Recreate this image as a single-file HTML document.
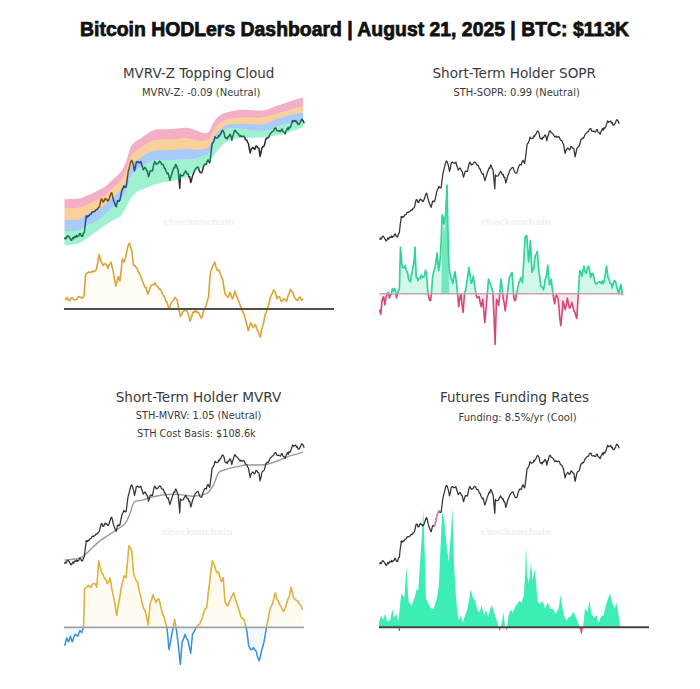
<!DOCTYPE html>
<html><head><meta charset="utf-8"><title>Bitcoin HODLers Dashboard</title>
<style>
html,body{margin:0;padding:0;background:#fff;}
body{width:700px;height:689px;overflow:hidden;}
svg{display:block;}
.t{font-family:"DejaVu Sans",sans-serif;fill:#3a3a3a;}
.wm{font-family:"DejaVu Sans",sans-serif;font-weight:bold;fill:#f1f1f1;}
</style></head><body>
<svg width="700" height="689" viewBox="0 0 700 689">
<rect width="700" height="689" fill="#fff"/>
<text x="354.5" y="35.7" text-anchor="middle" style="font-family:'Liberation Sans',sans-serif;font-weight:bold;font-size:19.4px;fill:#111;stroke:#111;stroke-width:0.75">Bitcoin HODLers Dashboard | August 21, 2025 | BTC: $113K</text>

<g id="c1">
<text class="wm" x="199" y="224.5" text-anchor="middle" font-size="9.2">checkonchain</text>
<polyline points="64.6,239.2 65.3,237.5 66.0,238.7 66.7,237.8 67.4,235.8 68.1,235.7 68.8,236.6 69.5,237.4 70.2,238.9 70.9,240.1 71.6,240.3 72.3,238.4 73.0,237.5 73.7,238.8 74.4,236.9 75.1,236.3 75.9,237.2 76.6,235.4 77.4,236.9 78.1,235.9 78.9,235.7 79.6,233.6 80.3,233.4 81.1,235.5 81.8,236.4 82.6,236.3 83.5,233.0 84.4,232.2 85.2,224.0 86.1,218.3 86.1,216.0 86.8,216.1 87.6,217.1 88.3,215.7 89.0,216.0 89.8,214.5 90.6,214.2 91.4,213.6 92.2,211.8 92.9,211.7 93.7,211.9 94.4,211.3 95.1,211.0 95.8,209.8 96.5,209.4 97.2,209.6 98.0,207.9 98.7,207.6 99.5,206.7 100.4,202.4 101.2,199.1 102.1,199.3 103.0,202.0 103.8,201.7 104.5,199.8 105.3,198.5 106.1,199.7 106.8,199.3 107.6,200.9 108.4,200.6 109.2,198.7 110.0,196.2 110.9,193.5 111.7,192.7 112.5,195.8 113.4,199.7 114.1,202.0 114.9,203.7 115.6,206.1 116.3,206.7 117.5,200.9 118.3,200.5 119.0,201.4 119.8,200.3 120.7,196.4 121.6,191.6 122.4,189.2 123.1,188.0 123.9,185.8 124.7,187.2 125.4,187.4 126.2,186.9 127.1,179.5 128.1,172.0 129.0,168.8 129.9,165.1 130.8,161.5 131.6,160.4 132.5,162.1 133.4,165.1 134.5,170.9 135.4,167.3 136.3,162.1 137.1,162.1 137.8,161.6 138.6,162.7 139.4,162.5 140.1,162.5 140.9,161.6 141.7,164.8 142.4,166.7 143.2,169.7 144.1,168.4 145.0,167.4 145.8,168.6 146.5,170.5 147.3,170.9 148.5,176.7 149.4,173.9 150.2,170.9 151.0,170.6 151.7,170.9 152.5,170.9 153.3,166.6 154.0,163.5 154.8,161.6 155.6,162.9 156.4,164.4 157.2,163.9 157.9,163.6 158.6,162.5 159.4,161.3 160.1,161.6 160.8,162.3 161.6,164.3 162.3,164.5 163.0,164.5 163.7,166.1 164.4,168.4 165.1,168.3 165.8,170.5 166.5,172.0 167.4,173.8 168.2,173.2 169.0,176.9 169.9,180.2 170.8,177.1 171.7,174.3 172.5,171.4 173.2,169.8 174.0,167.4 174.8,167.8 175.5,164.6 176.3,165.1 177.2,168.1 178.1,169.7 179.0,179.8 179.8,188.3 180.4,174.3 181.2,175.7 181.9,175.7 182.7,175.5 183.4,175.2 184.1,173.2 184.9,172.2 185.6,170.9 186.5,172.4 187.4,174.3 188.2,173.9 188.9,176.9 189.7,176.7 190.8,182.5 191.6,179.9 192.4,176.3 193.2,174.3 194.2,171.8 195.2,169.2 195.9,168.6 196.6,167.7 197.4,167.1 198.1,166.9 199.0,169.6 199.9,172.1 200.8,172.7 201.6,172.7 202.4,170.7 203.1,167.9 203.9,165.7 204.7,164.1 205.5,164.2 206.3,164.5 207.1,161.4 208.0,159.9 208.9,161.6 209.7,162.8 210.9,154.1 212.1,143.6 213.2,142.5 214.1,140.5 215.0,136.7 215.8,137.8 216.5,138.2 217.3,137.8 218.0,137.7 218.8,135.4 219.5,136.1 220.2,134.3 220.9,133.9 221.7,131.5 222.4,130.5 223.1,130.9 224.0,132.5 224.8,136.7 225.6,138.1 226.4,137.6 227.2,139.0 227.9,136.8 228.7,137.0 229.4,135.1 230.1,134.3 231.0,136.1 231.8,140.1 232.5,136.8 233.2,135.3 234.0,131.9 234.7,130.3 235.4,130.4 236.2,132.3 236.9,132.4 237.6,133.2 238.4,133.9 239.2,135.5 240.0,136.7 240.8,135.5 241.5,136.6 242.3,136.7 243.1,136.2 243.8,136.1 244.6,137.2 245.4,139.5 246.2,139.8 246.9,140.3 247.7,142.6 248.5,143.6 249.4,149.1 250.2,152.9 251.1,149.4 252.0,148.3 252.8,147.4 253.5,148.1 254.3,149.4 255.1,148.8 255.8,146.2 256.6,146.0 257.4,147.3 258.1,148.0 258.9,148.3 260.1,156.4 261.0,152.5 261.8,148.3 262.7,146.7 263.6,146.5 264.4,145.2 265.1,142.3 265.9,139.0 266.7,138.6 267.4,137.5 268.2,137.8 269.0,136.7 269.8,134.5 270.6,133.2 271.4,132.8 272.1,131.5 272.9,131.4 273.6,130.9 274.3,128.6 275.1,128.3 275.8,128.0 276.6,130.2 277.3,130.9 278.1,130.9 279.0,130.6 279.8,131.4 280.6,131.6 281.4,129.4 282.2,129.1 282.9,131.4 283.7,132.1 284.4,132.4 285.1,133.8 286.0,131.1 286.8,129.7 287.5,128.0 288.2,129.8 289.0,127.2 289.7,128.0 290.6,126.8 291.5,123.9 292.6,120.4 293.4,121.8 294.1,121.0 294.9,121.0 295.7,120.5 296.5,122.7 297.3,122.1 298.1,124.5 299.0,124.5 299.7,123.7 300.5,121.9 301.2,120.2 301.9,119.2 302.7,120.2 303.4,121.2 304.2,123.3" fill="none" stroke="#2a2a2a" stroke-width="1.5" stroke-linejoin="round"/>
<path d="M64.5,199.2 C66.8,199.1 74.8,199.1 78.6,198.5 C82.4,197.9 84.6,196.6 87.3,195.5 C90.0,194.4 92.1,193.5 95.0,192.0 C97.9,190.5 102.3,188.4 104.8,186.7 C107.3,185.0 107.7,184.1 110.0,182.0 C112.3,179.9 116.7,176.0 118.7,174.0 C120.7,172.0 120.9,172.2 122.2,170.0 C123.5,167.8 125.0,164.8 126.4,161.0 C127.8,157.2 129.0,150.8 130.5,147.5 C132.0,144.2 133.9,142.9 135.5,141.5 C137.1,140.1 137.6,140.3 139.8,138.9 C142.0,137.5 146.1,134.3 148.6,132.8 C151.1,131.3 152.8,130.4 155.0,129.8 C157.2,129.2 159.2,129.3 162.0,129.2 C164.8,129.1 168.0,129.2 172.0,129.0 C176.0,128.8 182.0,127.6 185.8,127.8 C189.6,128.0 192.1,129.1 195.0,130.0 C197.9,130.9 200.9,132.7 203.2,133.0 C205.4,133.3 207.0,133.2 208.5,132.0 C210.0,130.8 210.8,127.7 212.0,125.5 C213.2,123.3 214.6,120.8 216.0,119.0 C217.4,117.2 218.8,116.1 220.5,115.0 C222.2,113.9 223.3,113.3 226.4,112.5 C229.5,111.7 235.1,110.4 239.0,110.0 C242.9,109.6 245.9,109.9 250.0,110.0 C254.1,110.1 259.3,111.0 263.5,110.4 C267.7,109.8 271.1,107.8 275.0,106.5 C278.9,105.2 282.1,103.9 286.8,102.4 C291.5,100.9 300.3,98.2 303.0,97.3 L303.0,106.0 C300.3,106.8 291.5,109.8 286.8,111.1 C282.1,112.4 278.9,112.9 275.0,114.0 C271.1,115.1 267.7,116.9 263.5,117.5 C259.3,118.1 254.1,117.8 250.0,117.8 C245.9,117.8 242.9,117.5 239.0,117.8 C235.1,118.1 229.5,118.9 226.4,119.8 C223.3,120.7 222.2,121.8 220.5,123.0 C218.8,124.2 217.4,125.2 216.0,127.0 C214.6,128.8 213.2,131.4 212.0,133.5 C210.8,135.6 210.0,138.6 208.5,139.8 C207.0,141.1 205.4,141.0 203.2,141.0 C200.9,141.0 197.9,140.4 195.0,140.0 C192.1,139.6 189.6,138.4 185.8,138.3 C182.0,138.2 176.0,139.2 172.0,139.5 C168.0,139.8 164.8,139.7 162.0,139.8 C159.2,139.9 157.2,139.8 155.0,140.3 C152.8,140.8 151.1,141.2 148.6,142.6 C146.1,144.0 142.0,147.1 139.8,148.5 C137.6,149.9 137.1,149.7 135.5,151.2 C133.9,152.7 132.0,154.3 130.5,157.5 C129.0,160.7 127.8,166.9 126.4,170.5 C125.0,174.1 123.5,176.9 122.2,179.0 C120.9,181.1 120.7,181.1 118.7,183.0 C116.7,184.9 112.3,188.4 110.0,190.5 C107.7,192.6 107.3,193.8 104.8,195.5 C102.3,197.2 97.9,199.5 95.0,201.0 C92.1,202.5 90.0,203.4 87.3,204.5 C84.6,205.6 82.4,207.2 78.6,207.8 C74.8,208.5 66.8,208.3 64.5,208.4 Z" fill="#e6376b" fill-opacity="0.4"/>
<path d="M64.5,208.4 C66.8,208.3 74.8,208.5 78.6,207.8 C82.4,207.2 84.6,205.6 87.3,204.5 C90.0,203.4 92.1,202.5 95.0,201.0 C97.9,199.5 102.3,197.2 104.8,195.5 C107.3,193.8 107.7,192.6 110.0,190.5 C112.3,188.4 116.7,184.9 118.7,183.0 C120.7,181.1 120.9,181.1 122.2,179.0 C123.5,176.9 125.0,174.1 126.4,170.5 C127.8,166.9 129.0,160.7 130.5,157.5 C132.0,154.3 133.9,152.7 135.5,151.2 C137.1,149.7 137.6,149.9 139.8,148.5 C142.0,147.1 146.1,144.0 148.6,142.6 C151.1,141.2 152.8,140.8 155.0,140.3 C157.2,139.8 159.2,139.9 162.0,139.8 C164.8,139.7 168.0,139.8 172.0,139.5 C176.0,139.2 182.0,138.2 185.8,138.3 C189.6,138.4 192.1,139.6 195.0,140.0 C197.9,140.4 200.9,141.0 203.2,141.0 C205.4,141.0 207.0,141.1 208.5,139.8 C210.0,138.6 210.8,135.6 212.0,133.5 C213.2,131.4 214.6,128.8 216.0,127.0 C217.4,125.2 218.8,124.2 220.5,123.0 C222.2,121.8 223.3,120.7 226.4,119.8 C229.5,118.9 235.1,118.1 239.0,117.8 C242.9,117.5 245.9,117.8 250.0,117.8 C254.1,117.8 259.3,118.1 263.5,117.5 C267.7,116.9 271.1,115.1 275.0,114.0 C278.9,112.9 282.1,112.4 286.8,111.1 C291.5,109.8 300.3,106.8 303.0,106.0 L303.0,112.6 C300.3,113.1 291.5,114.3 286.8,115.5 C282.1,116.7 278.9,118.1 275.0,119.5 C271.1,120.9 267.7,123.2 263.5,124.0 C259.3,124.8 254.1,124.1 250.0,124.0 C245.9,123.9 242.9,123.3 239.0,123.5 C235.1,123.7 229.5,124.0 226.4,125.0 C223.3,126.0 222.2,128.1 220.5,129.5 C218.8,130.9 217.4,131.6 216.0,133.5 C214.6,135.4 213.2,138.7 212.0,141.0 C210.8,143.3 210.0,146.2 208.5,147.5 C207.0,148.8 205.4,148.7 203.2,149.0 C200.9,149.3 197.9,149.6 195.0,149.5 C192.1,149.4 189.6,148.6 185.8,148.7 C182.0,148.8 176.0,149.6 172.0,149.8 C168.0,150.1 164.8,150.1 162.0,150.2 C159.2,150.3 157.2,150.0 155.0,150.4 C152.8,150.8 151.1,151.3 148.6,152.6 C146.1,153.9 142.0,156.9 139.8,158.3 C137.6,159.7 137.1,159.7 135.5,161.2 C133.9,162.7 132.0,164.3 130.5,167.5 C129.0,170.7 127.8,177.0 126.4,180.5 C125.0,184.0 123.5,186.6 122.2,188.5 C120.9,190.4 120.7,190.2 118.7,192.0 C116.7,193.8 112.3,197.4 110.0,199.5 C107.7,201.6 107.3,202.7 104.8,204.5 C102.3,206.3 97.9,208.9 95.0,210.5 C92.1,212.1 90.0,212.5 87.3,214.0 C84.6,215.5 82.4,218.5 78.6,219.4 C74.8,220.3 66.8,219.4 64.5,219.4 Z" fill="#f58900" fill-opacity="0.4"/>
<path d="M64.5,219.4 C66.8,219.4 74.8,220.3 78.6,219.4 C82.4,218.5 84.6,215.5 87.3,214.0 C90.0,212.5 92.1,212.1 95.0,210.5 C97.9,208.9 102.3,206.3 104.8,204.5 C107.3,202.7 107.7,201.6 110.0,199.5 C112.3,197.4 116.7,193.8 118.7,192.0 C120.7,190.2 120.9,190.4 122.2,188.5 C123.5,186.6 125.0,184.0 126.4,180.5 C127.8,177.0 129.0,170.7 130.5,167.5 C132.0,164.3 133.9,162.7 135.5,161.2 C137.1,159.7 137.6,159.7 139.8,158.3 C142.0,156.9 146.1,153.9 148.6,152.6 C151.1,151.3 152.8,150.8 155.0,150.4 C157.2,150.0 159.2,150.3 162.0,150.2 C164.8,150.1 168.0,150.1 172.0,149.8 C176.0,149.6 182.0,148.8 185.8,148.7 C189.6,148.6 192.1,149.4 195.0,149.5 C197.9,149.6 200.9,149.3 203.2,149.0 C205.4,148.7 207.0,148.8 208.5,147.5 C210.0,146.2 210.8,143.3 212.0,141.0 C213.2,138.7 214.6,135.4 216.0,133.5 C217.4,131.6 218.8,130.9 220.5,129.5 C222.2,128.1 223.3,126.0 226.4,125.0 C229.5,124.0 235.1,123.7 239.0,123.5 C242.9,123.3 245.9,123.9 250.0,124.0 C254.1,124.1 259.3,124.8 263.5,124.0 C267.7,123.2 271.1,120.9 275.0,119.5 C278.9,118.1 282.1,116.7 286.8,115.5 C291.5,114.3 300.3,113.1 303.0,112.6 L303.0,120.6 C300.3,121.1 291.5,122.3 286.8,123.5 C282.1,124.7 278.9,126.2 275.0,127.5 C271.1,128.8 267.7,130.6 263.5,131.0 C259.3,131.4 254.1,130.4 250.0,130.0 C245.9,129.6 242.9,128.7 239.0,128.5 C235.1,128.3 229.5,128.1 226.4,129.0 C223.3,129.9 222.2,132.3 220.5,134.0 C218.8,135.7 217.4,136.8 216.0,139.0 C214.6,141.2 213.2,144.5 212.0,147.0 C210.8,149.5 210.0,152.5 208.5,154.0 C207.0,155.5 205.4,155.2 203.2,156.0 C200.9,156.8 197.9,158.5 195.0,159.0 C192.1,159.5 189.6,159.0 185.8,159.2 C182.0,159.4 176.0,159.8 172.0,160.0 C168.0,160.2 164.8,160.2 162.0,160.3 C159.2,160.4 157.2,159.9 155.0,160.3 C152.8,160.7 151.1,161.3 148.6,162.6 C146.1,163.9 142.0,166.6 139.8,168.0 C137.6,169.4 137.1,169.4 135.5,171.0 C133.9,172.6 132.0,174.2 130.5,177.5 C129.0,180.8 127.8,187.1 126.4,190.5 C125.0,193.9 123.5,196.1 122.2,198.0 C120.9,199.9 120.7,200.1 118.7,202.0 C116.7,203.9 112.3,207.4 110.0,209.5 C107.7,211.6 107.3,212.6 104.8,214.7 C102.3,216.8 97.9,220.2 95.0,222.0 C92.1,223.8 90.0,224.1 87.3,225.5 C84.6,226.9 82.4,229.6 78.6,230.5 C74.8,231.4 66.8,230.9 64.5,231.0 Z" fill="#257ded" fill-opacity="0.4"/>
<path d="M64.5,231.0 C66.8,230.9 74.8,231.4 78.6,230.5 C82.4,229.6 84.6,226.9 87.3,225.5 C90.0,224.1 92.1,223.8 95.0,222.0 C97.9,220.2 102.3,216.8 104.8,214.7 C107.3,212.6 107.7,211.6 110.0,209.5 C112.3,207.4 116.7,203.9 118.7,202.0 C120.7,200.1 120.9,199.9 122.2,198.0 C123.5,196.1 125.0,193.9 126.4,190.5 C127.8,187.1 129.0,180.8 130.5,177.5 C132.0,174.2 133.9,172.6 135.5,171.0 C137.1,169.4 137.6,169.4 139.8,168.0 C142.0,166.6 146.1,163.9 148.6,162.6 C151.1,161.3 152.8,160.7 155.0,160.3 C157.2,159.9 159.2,160.4 162.0,160.3 C164.8,160.2 168.0,160.2 172.0,160.0 C176.0,159.8 182.0,159.4 185.8,159.2 C189.6,159.0 192.1,159.5 195.0,159.0 C197.9,158.5 200.9,156.8 203.2,156.0 C205.4,155.2 207.0,155.5 208.5,154.0 C210.0,152.5 210.8,149.5 212.0,147.0 C213.2,144.5 214.6,141.2 216.0,139.0 C217.4,136.8 218.8,135.7 220.5,134.0 C222.2,132.3 223.3,129.9 226.4,129.0 C229.5,128.1 235.1,128.3 239.0,128.5 C242.9,128.7 245.9,129.6 250.0,130.0 C254.1,130.4 259.3,131.4 263.5,131.0 C267.7,130.6 271.1,128.8 275.0,127.5 C278.9,126.2 282.1,124.7 286.8,123.5 C291.5,122.3 300.3,121.1 303.0,120.6 L303.0,127.1 C300.3,128.1 291.5,131.5 286.8,132.9 C282.1,134.3 278.9,134.7 275.0,135.5 C271.1,136.3 267.7,137.1 263.5,137.5 C259.3,137.9 254.1,137.8 250.0,137.8 C245.9,137.9 242.9,137.1 239.0,137.8 C235.1,138.5 229.5,140.5 226.4,142.0 C223.3,143.5 222.2,145.2 220.5,147.0 C218.8,148.8 217.4,150.6 216.0,152.5 C214.6,154.4 213.2,156.8 212.0,158.5 C210.8,160.2 210.0,161.2 208.5,162.5 C207.0,163.8 205.4,165.0 203.2,166.5 C200.9,168.0 197.9,169.7 195.0,171.5 C192.1,173.3 189.6,175.9 185.8,177.5 C182.0,179.1 176.0,180.2 172.0,181.0 C168.0,181.8 164.8,181.9 162.0,182.5 C159.2,183.1 157.2,183.8 155.0,184.5 C152.8,185.2 151.1,186.0 148.6,187.0 C146.1,188.0 142.0,189.5 139.8,190.5 C137.6,191.5 137.1,191.7 135.5,193.0 C133.9,194.3 132.0,196.2 130.5,198.5 C129.0,200.8 127.8,204.0 126.4,206.5 C125.0,209.0 123.5,211.7 122.2,213.5 C120.9,215.3 120.7,216.1 118.7,217.5 C116.7,218.9 112.3,220.7 110.0,222.0 C107.7,223.3 107.3,223.8 104.8,225.5 C102.3,227.2 97.9,230.4 95.0,232.5 C92.1,234.6 90.0,236.2 87.3,238.0 C84.6,239.8 82.4,242.0 78.6,243.3 C74.8,244.6 66.8,245.2 64.5,245.6 Z" fill="#0cde89" fill-opacity="0.4"/>
<path d="M64.8,309 L64.8,298.9 L67.2,297.3 L69.6,300.5 L72.8,298.1 L76.0,299.7 L79.2,296.5 L82.4,298.1 L84.0,295.7 L85.6,274.9 L86.4,273.3 L90.4,272.5 L93.5,270.9 L96.7,268.5 L99.1,254.2 L100.7,260.6 L103.1,265.4 L105.5,263.8 L107.9,268.5 L111.1,262.2 L112.7,269.3 L115.1,282.9 L115.9,286.1 L118.3,276.5 L119.9,281.3 L122.3,259.0 L123.9,262.2 L125.5,257.4 L127.9,246.2 L129.5,243.0 L131.9,251.0 L133.5,265.4 L135.9,267.0 L138.2,271.7 L141.4,278.1 L143.8,284.5 L146.2,287.7 L147.8,294.1 L150.2,287.7 L152.6,284.5 L155.0,282.9 L157.4,286.1 L160.6,289.3 L163.8,295.7 L167.0,302.1 L169.3,308.5 L171.7,302.1 L174.9,297.3 L177.3,300.5 L178.9,310.1 L180.5,316.5 L182.9,311.7 L186.1,308.5 L188.5,314.9 L190.1,321.3 L192.5,313.3 L195.7,310.1 L198.9,313.3 L201.3,318.1 L203.7,310.1 L206.1,305.3 L208.5,297.3 L210.1,274.9 L212.4,267.0 L214.8,262.2 L217.2,270.1 L219.6,271.7 L221.2,276.5 L222.8,279.7 L225.2,294.1 L227.6,297.3 L230.0,292.5 L232.4,298.9 L234.8,290.9 L237.2,297.3 L239.6,303.7 L242.0,310.1 L244.3,314.9 L246.7,324.5 L248.3,330.8 L250.7,322.9 L253.1,327.7 L255.5,324.5 L257.9,330.8 L260.3,337.2 L262.7,326.1 L265.1,314.9 L267.5,308.5 L270.0,298.7 L273.5,290.0 L275.2,291.8 L277.0,298.7 L279.6,297.0 L281.3,301.4 L283.9,298.7 L286.6,301.4 L288.7,294.4 L290.5,289.2 L292.6,291.8 L294.4,297.0 L296.1,299.6 L297.9,300.5 L300.0,297.0 L301.8,300.5 L302.7,298.7 L302.7,309 Z" fill="#f5c842" fill-opacity="0.05"/>
<polyline points="64.8,298.9 66.0,299.4 67.2,297.3 68.4,300.2 69.6,300.5 70.7,298.5 71.7,297.7 72.8,298.1 73.9,299.6 74.9,299.8 76.0,299.7 77.1,299.1 78.1,297.0 79.2,296.5 80.3,297.3 81.3,297.9 82.4,298.1 84.0,295.7 85.6,274.9 86.4,273.3 87.4,273.3 88.4,271.9 89.4,272.5 90.4,272.5 91.4,271.7 92.5,272.1 93.5,270.9 94.6,271.5 95.6,270.6 96.7,268.5 97.9,261.5 99.1,254.2 100.7,260.6 101.9,262.8 103.1,265.4 104.3,264.0 105.5,263.8 106.7,264.9 107.9,268.5 109.0,265.1 110.0,264.2 111.1,262.2 112.7,269.3 113.9,275.6 115.1,282.9 115.9,286.1 117.1,281.0 118.3,276.5 119.9,281.3 121.1,271.2 122.3,259.0 123.9,262.2 125.5,257.4 126.7,251.9 127.9,246.2 129.5,243.0 130.7,247.2 131.9,251.0 133.5,265.4 134.7,265.5 135.9,267.0 137.1,268.0 138.2,271.7 139.3,273.3 140.3,274.9 141.4,278.1 142.6,281.3 143.8,284.5 145.0,287.5 146.2,287.7 147.8,294.1 149.0,291.4 150.2,287.7 151.4,285.2 152.6,284.5 153.8,284.8 155.0,282.9 156.2,285.3 157.4,286.1 158.5,287.8 159.5,289.4 160.6,289.3 161.7,292.2 162.7,294.4 163.8,295.7 164.9,297.4 165.9,301.3 167.0,302.1 168.2,306.6 169.3,308.5 170.5,304.4 171.7,302.1 172.8,301.2 173.8,299.5 174.9,297.3 176.1,298.8 177.3,300.5 178.9,310.1 180.5,316.5 181.7,314.2 182.9,311.7 184.0,310.6 185.0,310.8 186.1,308.5 187.3,311.7 188.5,314.9 190.1,321.3 191.3,318.2 192.5,313.3 193.6,311.8 194.6,312.2 195.7,310.1 196.8,312.3 197.8,312.1 198.9,313.3 200.1,315.9 201.3,318.1 202.5,315.3 203.7,310.1 204.9,308.3 206.1,305.3 207.3,301.3 208.5,297.3 210.1,274.9 211.2,270.2 212.4,267.0 213.6,264.1 214.8,262.2 216.0,266.7 217.2,270.1 218.4,270.0 219.6,271.7 221.2,276.5 222.8,279.7 224.0,288.0 225.2,294.1 226.4,295.1 227.6,297.3 228.8,296.1 230.0,292.5 231.2,295.2 232.4,298.9 233.6,296.2 234.8,290.9 236.0,294.7 237.2,297.3 238.4,300.5 239.6,303.7 240.8,306.9 242.0,310.1 243.2,312.9 244.3,314.9 245.5,319.9 246.7,324.5 248.3,330.8 249.5,326.3 250.7,322.9 251.9,324.5 253.1,327.7 254.3,326.1 255.5,324.5 256.7,328.9 257.9,330.8 259.1,334.3 260.3,337.2 261.5,330.5 262.7,326.1 263.9,321.4 265.1,314.9 266.3,312.3 267.5,308.5 268.8,304.7 270.0,298.7 271.2,294.9 272.3,293.6 273.5,290.0 275.2,291.8 277.0,298.7 278.3,296.6 279.6,297.0 281.3,301.4 282.6,300.5 283.9,298.7 285.2,299.4 286.6,301.4 287.6,297.1 288.7,294.4 290.5,289.2 291.6,291.6 292.6,291.8 294.4,297.0 296.1,299.6 297.9,300.5 298.9,297.6 300.0,297.0 301.8,300.5 302.7,298.7" fill="none" stroke="#dca33a" stroke-width="1.6" stroke-linejoin="round"/>
<line x1="64" y1="309" x2="334" y2="309" stroke="#505050" stroke-width="2"/>
</g>
<g id="c2">
<text class="wm" x="516" y="224.5" text-anchor="middle" font-size="9.2">checkonchain</text>
<polyline points="379.6,239.7 380.3,238.0 381.0,239.2 381.7,238.3 382.4,236.3 383.1,236.2 383.8,237.1 384.5,237.9 385.2,239.4 385.9,240.6 386.6,240.8 387.3,238.9 388.0,238.0 388.7,239.3 389.4,237.4 390.1,236.8 390.9,237.7 391.6,235.9 392.4,237.4 393.1,236.4 393.9,236.2 394.6,234.1 395.3,233.9 396.1,236.0 396.8,236.9 397.6,236.8 398.5,233.5 399.4,232.7 400.2,224.5 401.1,218.8 401.1,216.5 401.8,216.6 402.6,217.6 403.3,216.2 404.0,216.5 404.8,215.0 405.6,214.7 406.4,214.1 407.2,212.3 407.9,212.2 408.7,212.4 409.4,211.8 410.1,211.5 410.8,210.3 411.5,209.9 412.2,210.1 413.0,208.4 413.7,208.1 414.5,207.2 415.4,202.9 416.2,199.6 417.1,199.8 418.0,202.5 418.8,202.2 419.5,200.3 420.3,199.0 421.1,200.2 421.8,199.8 422.6,201.4 423.4,201.1 424.2,199.2 425.0,196.7 425.9,194.0 426.7,193.2 427.5,196.3 428.4,200.2 429.1,202.5 429.9,204.2 430.6,206.6 431.3,207.2 432.5,201.4 433.3,201.0 434.0,201.9 434.8,200.8 435.7,196.9 436.6,192.1 437.4,189.7 438.1,188.5 438.9,186.3 439.7,187.7 440.4,187.9 441.2,187.4 442.1,180.0 443.1,172.5 444.0,169.3 444.9,165.6 445.8,162.0 446.6,160.9 447.5,162.6 448.4,165.6 449.5,171.4 450.4,167.8 451.3,162.6 452.1,162.6 452.8,162.1 453.6,163.2 454.4,163.0 455.1,163.0 455.9,162.1 456.7,165.3 457.4,167.2 458.2,170.2 459.1,168.9 460.0,167.9 460.8,169.1 461.5,171.0 462.3,171.4 463.5,177.2 464.4,174.4 465.2,171.4 466.0,171.1 466.7,171.4 467.5,171.4 468.3,167.1 469.0,164.0 469.8,162.1 470.6,163.4 471.4,164.9 472.2,164.4 472.9,164.1 473.6,163.0 474.4,161.8 475.1,162.1 475.8,162.8 476.6,164.8 477.3,165.0 478.0,165.0 478.7,166.6 479.4,168.9 480.1,168.8 480.8,171.0 481.5,172.5 482.4,174.3 483.2,173.7 484.0,177.4 484.9,180.7 485.8,177.6 486.7,174.8 487.5,171.9 488.2,170.3 489.0,167.9 489.8,168.3 490.5,165.1 491.3,165.6 492.2,168.6 493.1,170.2 494.0,180.3 494.8,188.8 495.4,174.8 496.2,176.2 496.9,176.2 497.7,176.0 498.4,175.7 499.1,173.7 499.9,172.7 500.6,171.4 501.5,172.9 502.4,174.8 503.2,174.4 503.9,177.4 504.7,177.2 505.8,183.0 506.6,180.4 507.4,176.8 508.2,174.8 509.2,172.3 510.2,169.7 510.9,169.1 511.6,168.2 512.4,167.6 513.1,167.4 514.0,170.1 514.9,172.6 515.8,173.2 516.6,173.2 517.4,171.2 518.1,168.4 518.9,166.2 519.7,164.6 520.5,164.7 521.3,165.0 522.1,161.9 523.0,160.4 523.9,162.1 524.7,163.3 525.9,154.6 527.1,144.1 528.2,143.0 529.1,141.0 530.0,137.2 530.8,138.3 531.5,138.7 532.3,138.3 533.0,138.2 533.8,135.9 534.5,136.6 535.2,134.8 535.9,134.4 536.7,132.0 537.4,131.0 538.1,131.4 539.0,133.0 539.8,137.2 540.6,138.6 541.4,138.1 542.2,139.5 542.9,137.3 543.7,137.5 544.4,135.6 545.1,134.8 546.0,136.6 546.8,140.6 547.5,137.3 548.2,135.8 549.0,132.4 549.7,130.8 550.4,130.9 551.2,132.8 551.9,132.9 552.6,133.7 553.4,134.4 554.2,136.0 555.0,137.2 555.8,136.0 556.5,137.1 557.3,137.2 558.1,136.7 558.8,136.6 559.6,137.7 560.4,140.0 561.2,140.3 561.9,140.8 562.7,143.1 563.5,144.1 564.4,149.6 565.2,153.4 566.1,149.9 567.0,148.8 567.8,147.9 568.5,148.6 569.3,149.9 570.1,149.3 570.8,146.7 571.6,146.5 572.4,147.8 573.1,148.5 573.9,148.8 575.1,156.9 576.0,153.0 576.8,148.8 577.7,147.2 578.6,147.0 579.4,145.7 580.1,142.8 580.9,139.5 581.7,139.1 582.4,138.0 583.2,138.3 584.0,137.2 584.8,135.0 585.6,133.7 586.4,133.3 587.1,132.0 587.9,131.9 588.6,131.4 589.3,129.1 590.1,128.8 590.8,128.5 591.6,130.7 592.3,131.4 593.1,131.4 594.0,131.1 594.8,131.9 595.6,132.1 596.4,129.9 597.2,129.6 597.9,131.9 598.7,132.6 599.4,132.9 600.1,134.3 601.0,131.6 601.8,130.2 602.5,128.5 603.2,130.3 604.0,127.7 604.7,128.5 605.6,127.3 606.5,124.4 607.6,120.9 608.4,122.3 609.1,121.5 609.9,121.5 610.7,121.0 611.5,123.2 612.3,122.6 613.1,125.0 614.0,125.0 614.7,124.2 615.5,122.4 616.2,120.7 616.9,119.7 617.7,120.7 618.4,121.7 619.2,123.8" fill="none" stroke="#333" stroke-width="1.25" stroke-linejoin="round"/>
<clipPath id="c2a"><rect x="370" y="150" width="270" height="143.8"/></clipPath>
<clipPath id="c2b"><rect x="370" y="293.8" width="270" height="80"/></clipPath>
<path d="M379.6,293.8 L379.6,309.6 L380.8,314.2 L382.0,301.5 L382.9,298.0 L383.7,296.8 L384.9,305.0 L385.8,298.6 L386.6,295.7 L387.5,293.5 L388.3,292.2 L389.5,298.0 L390.4,294.7 L391.2,294.5 L392.4,288.7 L393.6,291.0 L394.5,288.5 L395.3,289.9 L396.5,298.0 L397.4,294.1 L398.2,291.0 L399.4,288.7 L400.5,247.0 L401.7,263.2 L402.5,267.3 L403.4,267.8 L404.3,268.0 L405.2,265.5 L406.0,269.6 L406.9,271.3 L407.8,274.1 L408.6,279.4 L409.5,280.8 L410.4,281.8 L411.2,276.2 L412.1,272.5 L413.0,266.4 L413.9,263.2 L415.0,247.0 L416.2,277.1 L417.0,277.1 L417.9,280.6 L418.8,278.2 L419.7,278.3 L420.5,278.4 L421.4,274.8 L422.5,277.4 L423.7,277.1 L424.6,275.0 L425.5,270.2 L426.6,274.8 L427.8,291.0 L428.9,298.0 L429.8,300.5 L430.7,300.3 L431.8,288.7 L432.6,277.4 L433.5,272.6 L434.3,269.6 L435.2,267.0 L436.1,260.6 L437.0,253.0 L437.9,262.7 L438.7,270.4 L439.5,265.0 L440.4,256.5 L441.3,237.3 L442.2,214.8 L443.0,217.6 L443.9,224.0 L444.8,219.5 L445.7,214.0 L447.0,185.2 L448.3,249.6 L449.1,267.0 L450.0,273.0 L450.9,277.4 L451.9,280.4 L452.9,283.4 L454.0,276.2 L455.1,271.8 L456.2,281.1 L457.3,290.7 L458.7,306.7 L459.8,298.3 L460.9,293.6 L462.0,305.0 L463.1,312.5 L464.5,293.6 L465.6,290.1 L466.7,283.4 L467.8,275.6 L468.9,267.4 L470.0,274.5 L471.1,283.4 L472.2,281.6 L473.3,276.2 L474.4,283.8 L475.4,290.7 L476.5,296.0 L477.6,298.0 L479.1,296.5 L480.2,303.1 L481.3,306.7 L482.7,299.4 L483.8,311.1 L484.9,322.7 L486.3,305.2 L487.4,291.8 L488.5,279.1 L489.6,282.4 L490.7,284.9 L491.8,288.2 L492.9,292.2 L494.0,316.9 L495.1,344.5 L496.5,299.4 L497.6,301.4 L498.7,305.2 L499.8,293.5 L500.9,279.1 L502.0,286.5 L503.1,298.0 L504.1,302.5 L505.2,311.0 L506.3,302.9 L507.4,293.6 L508.4,284.6 L509.4,277.6 L510.3,276.0 L511.1,274.0 L512.0,272.4 L512.9,283.9 L513.7,296.8 L514.6,300.7 L515.5,300.3 L516.4,294.3 L517.2,290.6 L518.1,286.3 L519.0,282.1 L519.8,281.1 L520.7,277.6 L521.6,279.2 L522.5,282.8 L523.4,267.1 L524.2,253.7 L525.1,237.5 L526.0,235.8 L526.8,235.7 L527.7,249.1 L528.6,261.9 L529.5,253.2 L530.3,240.9 L531.1,254.9 L532.0,272.4 L532.9,268.7 L533.8,268.9 L534.6,260.7 L535.5,254.9 L536.4,254.3 L537.3,251.4 L538.1,262.4 L539.0,272.4 L539.9,278.2 L540.8,286.3 L541.7,286.7 L542.5,287.2 L543.4,289.8 L544.3,285.6 L545.1,279.7 L546.0,277.6 L546.9,272.4 L547.8,265.4 L548.6,276.7 L549.5,284.6 L550.4,284.0 L551.2,279.3 L552.1,287.3 L553.0,293.3 L553.9,300.6 L554.7,303.8 L555.6,297.3 L556.5,295.0 L557.9,298.0 L558.9,306.3 L559.8,318.5 L560.8,325.6 L561.9,314.5 L563.0,301.0 L564.1,305.0 L565.2,309.7 L566.2,305.8 L567.3,298.0 L568.4,303.6 L569.5,308.2 L570.6,306.7 L571.7,302.4 L572.8,305.8 L573.9,311.1 L574.9,312.2 L575.8,315.7 L576.8,318.4 L578.2,295.2 L579.7,270.5 L580.8,271.8 L581.9,276.3 L583.0,270.7 L584.0,266.1 L585.1,271.8 L586.2,273.4 L587.3,269.0 L588.4,266.1 L589.5,269.7 L590.6,277.7 L591.7,273.5 L592.7,273.4 L593.8,276.3 L594.9,282.1 L596.0,284.0 L597.1,283.5 L598.2,282.2 L599.3,282.1 L600.3,281.9 L601.4,283.5 L602.4,280.8 L603.3,283.7 L604.3,280.6 L605.4,273.0 L606.5,266.1 L608.0,277.7 L609.1,279.3 L610.2,283.5 L611.2,283.8 L612.3,287.9 L613.4,282.3 L614.5,280.6 L615.6,282.0 L616.7,286.4 L617.8,290.8 L618.9,293.7 L620.0,287.7 L621.0,284.7 L622.5,295.2 L622.5,293.8 Z" fill="#36e0a0" fill-opacity="0.22" clip-path="url(#c2a)"/>
<path d="M379.6,293.8 L379.6,309.6 L380.8,314.2 L382.0,301.5 L382.9,298.0 L383.7,296.8 L384.9,305.0 L385.8,298.6 L386.6,295.7 L387.5,293.5 L388.3,292.2 L389.5,298.0 L390.4,294.7 L391.2,294.5 L392.4,288.7 L393.6,291.0 L394.5,288.5 L395.3,289.9 L396.5,298.0 L397.4,294.1 L398.2,291.0 L399.4,288.7 L400.5,247.0 L401.7,263.2 L402.5,267.3 L403.4,267.8 L404.3,268.0 L405.2,265.5 L406.0,269.6 L406.9,271.3 L407.8,274.1 L408.6,279.4 L409.5,280.8 L410.4,281.8 L411.2,276.2 L412.1,272.5 L413.0,266.4 L413.9,263.2 L415.0,247.0 L416.2,277.1 L417.0,277.1 L417.9,280.6 L418.8,278.2 L419.7,278.3 L420.5,278.4 L421.4,274.8 L422.5,277.4 L423.7,277.1 L424.6,275.0 L425.5,270.2 L426.6,274.8 L427.8,291.0 L428.9,298.0 L429.8,300.5 L430.7,300.3 L431.8,288.7 L432.6,277.4 L433.5,272.6 L434.3,269.6 L435.2,267.0 L436.1,260.6 L437.0,253.0 L437.9,262.7 L438.7,270.4 L439.5,265.0 L440.4,256.5 L441.3,237.3 L442.2,214.8 L443.0,217.6 L443.9,224.0 L444.8,219.5 L445.7,214.0 L447.0,185.2 L448.3,249.6 L449.1,267.0 L450.0,273.0 L450.9,277.4 L451.9,280.4 L452.9,283.4 L454.0,276.2 L455.1,271.8 L456.2,281.1 L457.3,290.7 L458.7,306.7 L459.8,298.3 L460.9,293.6 L462.0,305.0 L463.1,312.5 L464.5,293.6 L465.6,290.1 L466.7,283.4 L467.8,275.6 L468.9,267.4 L470.0,274.5 L471.1,283.4 L472.2,281.6 L473.3,276.2 L474.4,283.8 L475.4,290.7 L476.5,296.0 L477.6,298.0 L479.1,296.5 L480.2,303.1 L481.3,306.7 L482.7,299.4 L483.8,311.1 L484.9,322.7 L486.3,305.2 L487.4,291.8 L488.5,279.1 L489.6,282.4 L490.7,284.9 L491.8,288.2 L492.9,292.2 L494.0,316.9 L495.1,344.5 L496.5,299.4 L497.6,301.4 L498.7,305.2 L499.8,293.5 L500.9,279.1 L502.0,286.5 L503.1,298.0 L504.1,302.5 L505.2,311.0 L506.3,302.9 L507.4,293.6 L508.4,284.6 L509.4,277.6 L510.3,276.0 L511.1,274.0 L512.0,272.4 L512.9,283.9 L513.7,296.8 L514.6,300.7 L515.5,300.3 L516.4,294.3 L517.2,290.6 L518.1,286.3 L519.0,282.1 L519.8,281.1 L520.7,277.6 L521.6,279.2 L522.5,282.8 L523.4,267.1 L524.2,253.7 L525.1,237.5 L526.0,235.8 L526.8,235.7 L527.7,249.1 L528.6,261.9 L529.5,253.2 L530.3,240.9 L531.1,254.9 L532.0,272.4 L532.9,268.7 L533.8,268.9 L534.6,260.7 L535.5,254.9 L536.4,254.3 L537.3,251.4 L538.1,262.4 L539.0,272.4 L539.9,278.2 L540.8,286.3 L541.7,286.7 L542.5,287.2 L543.4,289.8 L544.3,285.6 L545.1,279.7 L546.0,277.6 L546.9,272.4 L547.8,265.4 L548.6,276.7 L549.5,284.6 L550.4,284.0 L551.2,279.3 L552.1,287.3 L553.0,293.3 L553.9,300.6 L554.7,303.8 L555.6,297.3 L556.5,295.0 L557.9,298.0 L558.9,306.3 L559.8,318.5 L560.8,325.6 L561.9,314.5 L563.0,301.0 L564.1,305.0 L565.2,309.7 L566.2,305.8 L567.3,298.0 L568.4,303.6 L569.5,308.2 L570.6,306.7 L571.7,302.4 L572.8,305.8 L573.9,311.1 L574.9,312.2 L575.8,315.7 L576.8,318.4 L578.2,295.2 L579.7,270.5 L580.8,271.8 L581.9,276.3 L583.0,270.7 L584.0,266.1 L585.1,271.8 L586.2,273.4 L587.3,269.0 L588.4,266.1 L589.5,269.7 L590.6,277.7 L591.7,273.5 L592.7,273.4 L593.8,276.3 L594.9,282.1 L596.0,284.0 L597.1,283.5 L598.2,282.2 L599.3,282.1 L600.3,281.9 L601.4,283.5 L602.4,280.8 L603.3,283.7 L604.3,280.6 L605.4,273.0 L606.5,266.1 L608.0,277.7 L609.1,279.3 L610.2,283.5 L611.2,283.8 L612.3,287.9 L613.4,282.3 L614.5,280.6 L615.6,282.0 L616.7,286.4 L617.8,290.8 L618.9,293.7 L620.0,287.7 L621.0,284.7 L622.5,295.2 L622.5,293.8 Z" fill="#e0507a" fill-opacity="0.13" clip-path="url(#c2b)"/>
<polyline points="379.6,309.6 380.8,314.2 382.0,301.5 382.9,298.0 383.7,296.8 384.9,305.0 385.8,298.6 386.6,295.7 387.5,293.5 388.3,292.2 389.5,298.0 390.4,294.7 391.2,294.5 392.4,288.7 393.6,291.0 394.5,288.5 395.3,289.9 396.5,298.0 397.4,294.1 398.2,291.0 399.4,288.7 400.5,247.0 401.7,263.2 402.5,267.3 403.4,267.8 404.3,268.0 405.2,265.5 406.0,269.6 406.9,271.3 407.8,274.1 408.6,279.4 409.5,280.8 410.4,281.8 411.2,276.2 412.1,272.5 413.0,266.4 413.9,263.2 415.0,247.0 416.2,277.1 417.0,277.1 417.9,280.6 418.8,278.2 419.7,278.3 420.5,278.4 421.4,274.8 422.5,277.4 423.7,277.1 424.6,275.0 425.5,270.2 426.6,274.8 427.8,291.0 428.9,298.0 429.8,300.5 430.7,300.3 431.8,288.7 432.6,277.4 433.5,272.6 434.3,269.6 435.2,267.0 436.1,260.6 437.0,253.0 437.9,262.7 438.7,270.4 439.5,265.0 440.4,256.5 441.3,237.3 442.2,214.8 443.0,217.6 443.9,224.0 444.8,219.5 445.7,214.0 447.0,185.2 448.3,249.6 449.1,267.0 450.0,273.0 450.9,277.4 451.9,280.4 452.9,283.4 454.0,276.2 455.1,271.8 456.2,281.1 457.3,290.7 458.7,306.7 459.8,298.3 460.9,293.6 462.0,305.0 463.1,312.5 464.5,293.6 465.6,290.1 466.7,283.4 467.8,275.6 468.9,267.4 470.0,274.5 471.1,283.4 472.2,281.6 473.3,276.2 474.4,283.8 475.4,290.7 476.5,296.0 477.6,298.0 479.1,296.5 480.2,303.1 481.3,306.7 482.7,299.4 483.8,311.1 484.9,322.7 486.3,305.2 487.4,291.8 488.5,279.1 489.6,282.4 490.7,284.9 491.8,288.2 492.9,292.2 494.0,316.9 495.1,344.5 496.5,299.4 497.6,301.4 498.7,305.2 499.8,293.5 500.9,279.1 502.0,286.5 503.1,298.0 504.1,302.5 505.2,311.0 506.3,302.9 507.4,293.6 508.4,284.6 509.4,277.6 510.3,276.0 511.1,274.0 512.0,272.4 512.9,283.9 513.7,296.8 514.6,300.7 515.5,300.3 516.4,294.3 517.2,290.6 518.1,286.3 519.0,282.1 519.8,281.1 520.7,277.6 521.6,279.2 522.5,282.8 523.4,267.1 524.2,253.7 525.1,237.5 526.0,235.8 526.8,235.7 527.7,249.1 528.6,261.9 529.5,253.2 530.3,240.9 531.1,254.9 532.0,272.4 532.9,268.7 533.8,268.9 534.6,260.7 535.5,254.9 536.4,254.3 537.3,251.4 538.1,262.4 539.0,272.4 539.9,278.2 540.8,286.3 541.7,286.7 542.5,287.2 543.4,289.8 544.3,285.6 545.1,279.7 546.0,277.6 546.9,272.4 547.8,265.4 548.6,276.7 549.5,284.6 550.4,284.0 551.2,279.3 552.1,287.3 553.0,293.3 553.9,300.6 554.7,303.8 555.6,297.3 556.5,295.0 557.9,298.0 558.9,306.3 559.8,318.5 560.8,325.6 561.9,314.5 563.0,301.0 564.1,305.0 565.2,309.7 566.2,305.8 567.3,298.0 568.4,303.6 569.5,308.2 570.6,306.7 571.7,302.4 572.8,305.8 573.9,311.1 574.9,312.2 575.8,315.7 576.8,318.4 578.2,295.2 579.7,270.5 580.8,271.8 581.9,276.3 583.0,270.7 584.0,266.1 585.1,271.8 586.2,273.4 587.3,269.0 588.4,266.1 589.5,269.7 590.6,277.7 591.7,273.5 592.7,273.4 593.8,276.3 594.9,282.1 596.0,284.0 597.1,283.5 598.2,282.2 599.3,282.1 600.3,281.9 601.4,283.5 602.4,280.8 603.3,283.7 604.3,280.6 605.4,273.0 606.5,266.1 608.0,277.7 609.1,279.3 610.2,283.5 611.2,283.8 612.3,287.9 613.4,282.3 614.5,280.6 615.6,282.0 616.7,286.4 617.8,290.8 618.9,293.7 620.0,287.7 621.0,284.7 622.5,295.2" fill="none" stroke="#2fd49a" stroke-width="1.7" stroke-linejoin="round" clip-path="url(#c2a)"/>
<polyline points="379.6,309.6 380.8,314.2 382.0,301.5 382.9,298.0 383.7,296.8 384.9,305.0 385.8,298.6 386.6,295.7 387.5,293.5 388.3,292.2 389.5,298.0 390.4,294.7 391.2,294.5 392.4,288.7 393.6,291.0 394.5,288.5 395.3,289.9 396.5,298.0 397.4,294.1 398.2,291.0 399.4,288.7 400.5,247.0 401.7,263.2 402.5,267.3 403.4,267.8 404.3,268.0 405.2,265.5 406.0,269.6 406.9,271.3 407.8,274.1 408.6,279.4 409.5,280.8 410.4,281.8 411.2,276.2 412.1,272.5 413.0,266.4 413.9,263.2 415.0,247.0 416.2,277.1 417.0,277.1 417.9,280.6 418.8,278.2 419.7,278.3 420.5,278.4 421.4,274.8 422.5,277.4 423.7,277.1 424.6,275.0 425.5,270.2 426.6,274.8 427.8,291.0 428.9,298.0 429.8,300.5 430.7,300.3 431.8,288.7 432.6,277.4 433.5,272.6 434.3,269.6 435.2,267.0 436.1,260.6 437.0,253.0 437.9,262.7 438.7,270.4 439.5,265.0 440.4,256.5 441.3,237.3 442.2,214.8 443.0,217.6 443.9,224.0 444.8,219.5 445.7,214.0 447.0,185.2 448.3,249.6 449.1,267.0 450.0,273.0 450.9,277.4 451.9,280.4 452.9,283.4 454.0,276.2 455.1,271.8 456.2,281.1 457.3,290.7 458.7,306.7 459.8,298.3 460.9,293.6 462.0,305.0 463.1,312.5 464.5,293.6 465.6,290.1 466.7,283.4 467.8,275.6 468.9,267.4 470.0,274.5 471.1,283.4 472.2,281.6 473.3,276.2 474.4,283.8 475.4,290.7 476.5,296.0 477.6,298.0 479.1,296.5 480.2,303.1 481.3,306.7 482.7,299.4 483.8,311.1 484.9,322.7 486.3,305.2 487.4,291.8 488.5,279.1 489.6,282.4 490.7,284.9 491.8,288.2 492.9,292.2 494.0,316.9 495.1,344.5 496.5,299.4 497.6,301.4 498.7,305.2 499.8,293.5 500.9,279.1 502.0,286.5 503.1,298.0 504.1,302.5 505.2,311.0 506.3,302.9 507.4,293.6 508.4,284.6 509.4,277.6 510.3,276.0 511.1,274.0 512.0,272.4 512.9,283.9 513.7,296.8 514.6,300.7 515.5,300.3 516.4,294.3 517.2,290.6 518.1,286.3 519.0,282.1 519.8,281.1 520.7,277.6 521.6,279.2 522.5,282.8 523.4,267.1 524.2,253.7 525.1,237.5 526.0,235.8 526.8,235.7 527.7,249.1 528.6,261.9 529.5,253.2 530.3,240.9 531.1,254.9 532.0,272.4 532.9,268.7 533.8,268.9 534.6,260.7 535.5,254.9 536.4,254.3 537.3,251.4 538.1,262.4 539.0,272.4 539.9,278.2 540.8,286.3 541.7,286.7 542.5,287.2 543.4,289.8 544.3,285.6 545.1,279.7 546.0,277.6 546.9,272.4 547.8,265.4 548.6,276.7 549.5,284.6 550.4,284.0 551.2,279.3 552.1,287.3 553.0,293.3 553.9,300.6 554.7,303.8 555.6,297.3 556.5,295.0 557.9,298.0 558.9,306.3 559.8,318.5 560.8,325.6 561.9,314.5 563.0,301.0 564.1,305.0 565.2,309.7 566.2,305.8 567.3,298.0 568.4,303.6 569.5,308.2 570.6,306.7 571.7,302.4 572.8,305.8 573.9,311.1 574.9,312.2 575.8,315.7 576.8,318.4 578.2,295.2 579.7,270.5 580.8,271.8 581.9,276.3 583.0,270.7 584.0,266.1 585.1,271.8 586.2,273.4 587.3,269.0 588.4,266.1 589.5,269.7 590.6,277.7 591.7,273.5 592.7,273.4 593.8,276.3 594.9,282.1 596.0,284.0 597.1,283.5 598.2,282.2 599.3,282.1 600.3,281.9 601.4,283.5 602.4,280.8 603.3,283.7 604.3,280.6 605.4,273.0 606.5,266.1 608.0,277.7 609.1,279.3 610.2,283.5 611.2,283.8 612.3,287.9 613.4,282.3 614.5,280.6 615.6,282.0 616.7,286.4 617.8,290.8 618.9,293.7 620.0,287.7 621.0,284.7 622.5,295.2" fill="none" stroke="#d8457a" stroke-width="1.6" stroke-linejoin="round" clip-path="url(#c2b)"/>
<path d="M441.4,293.8 L442,245 L443,226 L444.4,232 L445.8,205 L446.8,187 L447.6,205 L448.3,248 L449.2,293.8 Z" fill="#33dd9e" fill-opacity="0.6"/>
<line x1="379.5" y1="293.8" x2="623" y2="293.8" stroke="#c9a3ab" stroke-width="1.5"/>
</g>
<g id="c3">
<text class="wm" x="197.5" y="534.5" text-anchor="middle" font-size="9.2">checkonchain</text>
<path d="M64.6,560.0 C66.3,559.8 71.8,559.7 75.0,559.0 C78.2,558.3 79.5,558.9 83.5,556.0 C87.5,553.1 94.0,545.6 99.2,541.4 C104.4,537.2 110.5,534.0 114.9,531.0 C119.3,528.0 122.9,526.1 125.4,523.1 C127.9,520.1 128.8,516.2 130.0,513.2 C131.2,510.3 131.7,507.4 132.6,505.4 C133.5,503.4 133.4,502.3 135.2,501.4 C136.9,500.5 140.7,500.8 143.1,500.1 C145.5,499.5 147.4,498.1 149.6,497.5 C151.8,496.9 153.7,496.6 156.1,496.2 C158.5,495.8 161.2,495.2 164.0,494.9 C166.8,494.6 170.0,494.2 173.1,494.2 C176.2,494.2 179.0,494.6 182.3,494.9 C185.6,495.2 189.4,496.2 192.7,496.2 C196.0,496.2 199.3,495.5 201.9,494.9 C204.5,494.2 206.4,494.1 208.4,492.3 C210.4,490.6 212.0,487.6 213.7,484.4 C215.4,481.2 216.8,475.3 218.6,472.9 C220.4,470.5 222.2,470.8 224.3,470.0 C226.4,469.2 229.0,468.5 231.4,467.9 C233.8,467.3 236.2,466.9 238.6,466.4 C241.0,465.9 243.3,465.2 245.7,465.0 C248.1,464.8 250.5,465.0 252.9,465.0 C255.3,465.0 257.6,465.1 260.0,465.0 C262.4,464.9 264.7,464.8 267.1,464.3 C269.5,463.8 271.9,462.9 274.3,462.1 C276.7,461.3 279.0,460.2 281.4,459.3 C283.8,458.4 286.2,457.2 288.6,456.4 C291.0,455.6 293.3,455.0 295.7,454.3 C298.1,453.6 301.7,452.5 302.9,452.1" fill="none" stroke="#a89494" stroke-width="1.4"/>
<polyline points="64.6,563.7 65.3,562.0 66.0,563.2 66.7,562.3 67.4,560.3 68.1,560.2 68.8,561.1 69.5,561.9 70.2,563.4 70.9,564.6 71.6,564.8 72.3,562.9 73.0,562.0 73.7,563.3 74.4,561.4 75.1,560.8 75.9,561.7 76.6,559.9 77.4,561.4 78.1,560.4 78.9,560.2 79.6,558.1 80.3,557.9 81.1,560.0 81.8,560.9 82.6,560.8 83.5,557.5 84.4,556.7 85.2,548.5 86.1,542.8 86.1,540.5 86.8,540.6 87.6,541.6 88.3,540.2 89.0,540.5 89.8,539.0 90.6,538.7 91.4,538.1 92.2,536.3 92.9,536.2 93.7,536.4 94.4,535.8 95.1,535.5 95.8,534.3 96.5,533.9 97.2,534.1 98.0,532.4 98.7,532.1 99.5,531.2 100.4,526.9 101.2,523.6 102.1,523.8 103.0,526.5 103.8,526.2 104.5,524.3 105.3,523.0 106.1,524.2 106.8,523.8 107.6,525.4 108.4,525.1 109.2,523.2 110.0,520.7 110.9,518.0 111.7,517.2 112.5,520.3 113.4,524.2 114.1,526.5 114.9,528.2 115.6,530.6 116.3,531.2 117.5,525.4 118.3,525.0 119.0,525.9 119.8,524.8 120.7,520.9 121.6,516.1 122.4,513.7 123.1,512.5 123.9,510.3 124.7,511.7 125.4,511.9 126.2,511.4 127.1,504.0 128.1,496.5 129.0,493.3 129.9,489.6 130.8,486.0 131.6,484.9 132.5,486.6 133.4,489.6 134.5,495.4 135.4,491.8 136.3,486.6 137.1,486.6 137.8,486.1 138.6,487.2 139.4,487.0 140.1,487.0 140.9,486.1 141.7,489.3 142.4,491.2 143.2,494.2 144.1,492.9 145.0,491.9 145.8,493.1 146.5,495.0 147.3,495.4 148.5,501.2 149.4,498.4 150.2,495.4 151.0,495.1 151.7,495.4 152.5,495.4 153.3,491.1 154.0,488.0 154.8,486.1 155.6,487.4 156.4,488.9 157.2,488.4 157.9,488.1 158.6,487.0 159.4,485.8 160.1,486.1 160.8,486.8 161.6,488.8 162.3,489.0 163.0,489.0 163.7,490.6 164.4,492.9 165.1,492.8 165.8,495.0 166.5,496.5 167.4,498.3 168.2,497.7 169.0,501.4 169.9,504.7 170.8,501.6 171.7,498.8 172.5,495.9 173.2,494.3 174.0,491.9 174.8,492.3 175.5,489.1 176.3,489.6 177.2,492.6 178.1,494.2 179.0,504.3 179.8,512.8 180.4,498.8 181.2,500.2 181.9,500.2 182.7,500.0 183.4,499.7 184.1,497.7 184.9,496.7 185.6,495.4 186.5,496.9 187.4,498.8 188.2,498.4 188.9,501.4 189.7,501.2 190.8,507.0 191.6,504.4 192.4,500.8 193.2,498.8 194.2,496.3 195.2,493.7 195.9,493.1 196.6,492.2 197.4,491.6 198.1,491.4 199.0,494.1 199.9,496.6 200.8,497.2 201.6,497.2 202.4,495.2 203.1,492.4 203.9,490.2 204.7,488.6 205.5,488.7 206.3,489.0 207.1,485.9 208.0,484.4 208.9,486.1 209.7,487.3 210.9,478.6 212.1,468.1 213.2,467.0 214.1,465.0 215.0,461.2 215.8,462.3 216.5,462.7 217.3,462.3 218.0,462.2 218.8,459.9 219.5,460.6 220.2,458.8 220.9,458.4 221.7,456.0 222.4,455.0 223.1,455.4 224.0,457.0 224.8,461.2 225.6,462.6 226.4,462.1 227.2,463.5 227.9,461.3 228.7,461.5 229.4,459.6 230.1,458.8 231.0,460.6 231.8,464.6 232.5,461.3 233.2,459.8 234.0,456.4 234.7,454.8 235.4,454.9 236.2,456.8 236.9,456.9 237.6,457.7 238.4,458.4 239.2,460.0 240.0,461.2 240.8,460.0 241.5,461.1 242.3,461.2 243.1,460.7 243.8,460.6 244.6,461.7 245.4,464.0 246.2,464.3 246.9,464.8 247.7,467.1 248.5,468.1 249.4,473.6 250.2,477.4 251.1,473.9 252.0,472.8 252.8,471.9 253.5,472.6 254.3,473.9 255.1,473.3 255.8,470.7 256.6,470.5 257.4,471.8 258.1,472.5 258.9,472.8 260.1,480.9 261.0,477.0 261.8,472.8 262.7,471.2 263.6,471.0 264.4,469.7 265.1,466.8 265.9,463.5 266.7,463.1 267.4,462.0 268.2,462.3 269.0,461.2 269.8,459.0 270.6,457.7 271.4,457.3 272.1,456.0 272.9,455.9 273.6,455.4 274.3,453.1 275.1,452.8 275.8,452.5 276.6,454.7 277.3,455.4 278.1,455.4 279.0,455.1 279.8,455.9 280.6,456.1 281.4,453.9 282.2,453.6 282.9,455.9 283.7,456.6 284.4,456.9 285.1,458.3 286.0,455.6 286.8,454.2 287.5,452.5 288.2,454.3 289.0,451.7 289.7,452.5 290.6,451.3 291.5,448.4 292.6,444.9 293.4,446.3 294.1,445.5 294.9,445.5 295.7,445.0 296.5,447.2 297.3,446.6 298.1,449.0 299.0,449.0 299.7,448.2 300.5,446.4 301.2,444.7 301.9,443.7 302.7,444.7 303.4,445.7 304.2,447.8" fill="none" stroke="#333" stroke-width="1.25" stroke-linejoin="round"/>
<clipPath id="c3a"><rect x="50" y="500" width="270" height="127.39999999999998"/></clipPath>
<clipPath id="c3b"><rect x="50" y="627.4" width="270" height="60"/></clipPath>
<path d="M64.7,627.4 L64.7,645.7 L66.6,638.1 L68.5,641.9 L70.4,636.2 L72.3,641.9 L75.1,634.3 L77.9,636.2 L79.8,630.6 L81.7,632.5 L83.6,626.8 L84.5,589.1 L88.3,585.3 L91.1,587.2 L94.0,583.4 L96.8,587.2 L98.7,560.8 L101.5,572.1 L104.3,577.7 L107.2,583.4 L110.0,577.7 L111.9,589.1 L114.7,602.3 L116.6,615.5 L118.5,604.2 L121.3,587.2 L124.2,575.8 L126.0,577.7 L128.9,545.7 L131.7,551.3 L133.6,574.0 L137.8,583.4 L140.7,596.6 L143.5,607.9 L146.3,615.5 L148.2,624.9 L150.1,604.2 L152.9,594.7 L155.8,602.3 L158.6,598.5 L161.4,609.8 L164.2,617.4 L167.1,628.7 L169.0,649.4 L171.8,634.3 L174.6,619.2 L176.5,630.6 L178.4,645.7 L180.3,664.5 L182.2,641.9 L185.0,634.3 L187.8,640.0 L190.7,653.2 L192.5,634.3 L195.4,628.7 L198.2,624.9 L201.0,621.1 L203.9,611.7 L206.7,607.9 L209.5,583.4 L212.4,560.8 L214.2,564.5 L215.7,570.2 L218.5,572.1 L221.3,581.5 L223.2,577.7 L225.1,602.3 L227.9,606.0 L230.8,598.5 L233.6,592.8 L236.4,602.3 L238.3,607.9 L241.1,617.4 L244.0,619.2 L246.8,630.6 L248.7,645.7 L250.6,649.4 L253.4,647.5 L256.2,651.3 L259.1,660.8 L261.9,649.4 L264.7,638.1 L266.6,626.8 L269.4,611.7 L272.3,604.2 L275.1,592.8 L277.9,600.4 L280.8,606.0 L283.6,611.7 L286.4,604.2 L289.2,596.6 L291.1,587.2 L294.0,598.5 L296.8,600.4 L299.6,604.2 L302.5,609.8 L302.5,627.4 Z" fill="#f5c842" fill-opacity="0.08" clip-path="url(#c3a)"/>
<path d="M64.7,627.4 L64.7,645.7 L66.6,638.1 L68.5,641.9 L70.4,636.2 L72.3,641.9 L75.1,634.3 L77.9,636.2 L79.8,630.6 L81.7,632.5 L83.6,626.8 L84.5,589.1 L88.3,585.3 L91.1,587.2 L94.0,583.4 L96.8,587.2 L98.7,560.8 L101.5,572.1 L104.3,577.7 L107.2,583.4 L110.0,577.7 L111.9,589.1 L114.7,602.3 L116.6,615.5 L118.5,604.2 L121.3,587.2 L124.2,575.8 L126.0,577.7 L128.9,545.7 L131.7,551.3 L133.6,574.0 L137.8,583.4 L140.7,596.6 L143.5,607.9 L146.3,615.5 L148.2,624.9 L150.1,604.2 L152.9,594.7 L155.8,602.3 L158.6,598.5 L161.4,609.8 L164.2,617.4 L167.1,628.7 L169.0,649.4 L171.8,634.3 L174.6,619.2 L176.5,630.6 L178.4,645.7 L180.3,664.5 L182.2,641.9 L185.0,634.3 L187.8,640.0 L190.7,653.2 L192.5,634.3 L195.4,628.7 L198.2,624.9 L201.0,621.1 L203.9,611.7 L206.7,607.9 L209.5,583.4 L212.4,560.8 L214.2,564.5 L215.7,570.2 L218.5,572.1 L221.3,581.5 L223.2,577.7 L225.1,602.3 L227.9,606.0 L230.8,598.5 L233.6,592.8 L236.4,602.3 L238.3,607.9 L241.1,617.4 L244.0,619.2 L246.8,630.6 L248.7,645.7 L250.6,649.4 L253.4,647.5 L256.2,651.3 L259.1,660.8 L261.9,649.4 L264.7,638.1 L266.6,626.8 L269.4,611.7 L272.3,604.2 L275.1,592.8 L277.9,600.4 L280.8,606.0 L283.6,611.7 L286.4,604.2 L289.2,596.6 L291.1,587.2 L294.0,598.5 L296.8,600.4 L299.6,604.2 L302.5,609.8 L302.5,627.4 Z" fill="#5aa8e8" fill-opacity="0.08" clip-path="url(#c3b)"/>
<polyline points="64.7,645.7 66.6,638.1 68.5,641.9 70.4,636.2 72.3,641.9 73.7,637.4 75.1,634.3 76.5,635.4 77.9,636.2 79.8,630.6 81.7,632.5 83.6,626.8 84.5,589.1 85.8,587.5 87.0,586.9 88.3,585.3 89.7,586.6 91.1,587.2 92.5,584.1 94.0,583.4 95.4,583.9 96.8,587.2 98.7,560.8 100.1,567.4 101.5,572.1 102.9,574.2 104.3,577.7 105.8,579.8 107.2,583.4 108.6,581.9 110.0,577.7 111.9,589.1 113.3,595.6 114.7,602.3 116.6,615.5 118.5,604.2 119.9,596.6 121.3,587.2 122.8,581.4 124.2,575.8 126.0,577.7 127.5,562.1 128.9,545.7 130.3,547.5 131.7,551.3 133.6,574.0 134.7,576.7 135.7,579.7 136.8,581.1 137.8,583.4 139.2,590.7 140.7,596.6 142.1,602.7 143.5,607.9 144.9,610.5 146.3,615.5 148.2,624.9 150.1,604.2 151.5,600.2 152.9,594.7 154.4,598.8 155.8,602.3 157.2,599.8 158.6,598.5 160.0,602.8 161.4,609.8 162.8,614.6 164.2,617.4 165.6,623.0 167.1,628.7 169.0,649.4 170.4,642.5 171.8,634.3 173.2,627.8 174.6,619.2 176.5,630.6 178.4,645.7 180.3,664.5 182.2,641.9 183.6,638.7 185.0,634.3 186.4,638.3 187.8,640.0 189.2,646.3 190.7,653.2 192.5,634.3 193.9,632.3 195.4,628.7 196.8,626.6 198.2,624.9 199.6,624.2 201.0,621.1 202.4,617.5 203.9,611.7 205.3,608.7 206.7,607.9 208.1,594.6 209.5,583.4 210.9,571.3 212.4,560.8 214.2,564.5 215.7,570.2 217.1,572.5 218.5,572.1 219.9,576.6 221.3,581.5 223.2,577.7 225.1,602.3 226.5,604.5 227.9,606.0 229.4,601.7 230.8,598.5 232.2,595.7 233.6,592.8 235.0,597.2 236.4,602.3 238.3,607.9 239.7,612.2 241.1,617.4 242.6,618.5 244.0,619.2 245.4,625.1 246.8,630.6 248.7,645.7 250.6,649.4 252.0,649.6 253.4,647.5 254.8,649.9 256.2,651.3 257.6,657.3 259.1,660.8 260.5,656.1 261.9,649.4 263.3,645.1 264.7,638.1 266.6,626.8 268.0,619.7 269.4,611.7 270.9,607.0 272.3,604.2 273.7,599.5 275.1,592.8 276.5,597.9 277.9,600.4 279.4,604.3 280.8,606.0 282.2,609.0 283.6,611.7 285.0,608.5 286.4,604.2 287.8,599.6 289.2,596.6 291.1,587.2 292.6,593.8 294.0,598.5 295.4,599.7 296.8,600.4 298.2,601.7 299.6,604.2 301.1,605.8 302.5,609.8" fill="none" stroke="#e2b03c" stroke-width="1.6" stroke-linejoin="round" clip-path="url(#c3a)"/>
<polyline points="64.7,645.7 66.6,638.1 68.5,641.9 70.4,636.2 72.3,641.9 73.7,637.4 75.1,634.3 76.5,635.4 77.9,636.2 79.8,630.6 81.7,632.5 83.6,626.8 84.5,589.1 85.8,587.5 87.0,586.9 88.3,585.3 89.7,586.6 91.1,587.2 92.5,584.1 94.0,583.4 95.4,583.9 96.8,587.2 98.7,560.8 100.1,567.4 101.5,572.1 102.9,574.2 104.3,577.7 105.8,579.8 107.2,583.4 108.6,581.9 110.0,577.7 111.9,589.1 113.3,595.6 114.7,602.3 116.6,615.5 118.5,604.2 119.9,596.6 121.3,587.2 122.8,581.4 124.2,575.8 126.0,577.7 127.5,562.1 128.9,545.7 130.3,547.5 131.7,551.3 133.6,574.0 134.7,576.7 135.7,579.7 136.8,581.1 137.8,583.4 139.2,590.7 140.7,596.6 142.1,602.7 143.5,607.9 144.9,610.5 146.3,615.5 148.2,624.9 150.1,604.2 151.5,600.2 152.9,594.7 154.4,598.8 155.8,602.3 157.2,599.8 158.6,598.5 160.0,602.8 161.4,609.8 162.8,614.6 164.2,617.4 165.6,623.0 167.1,628.7 169.0,649.4 170.4,642.5 171.8,634.3 173.2,627.8 174.6,619.2 176.5,630.6 178.4,645.7 180.3,664.5 182.2,641.9 183.6,638.7 185.0,634.3 186.4,638.3 187.8,640.0 189.2,646.3 190.7,653.2 192.5,634.3 193.9,632.3 195.4,628.7 196.8,626.6 198.2,624.9 199.6,624.2 201.0,621.1 202.4,617.5 203.9,611.7 205.3,608.7 206.7,607.9 208.1,594.6 209.5,583.4 210.9,571.3 212.4,560.8 214.2,564.5 215.7,570.2 217.1,572.5 218.5,572.1 219.9,576.6 221.3,581.5 223.2,577.7 225.1,602.3 226.5,604.5 227.9,606.0 229.4,601.7 230.8,598.5 232.2,595.7 233.6,592.8 235.0,597.2 236.4,602.3 238.3,607.9 239.7,612.2 241.1,617.4 242.6,618.5 244.0,619.2 245.4,625.1 246.8,630.6 248.7,645.7 250.6,649.4 252.0,649.6 253.4,647.5 254.8,649.9 256.2,651.3 257.6,657.3 259.1,660.8 260.5,656.1 261.9,649.4 263.3,645.1 264.7,638.1 266.6,626.8 268.0,619.7 269.4,611.7 270.9,607.0 272.3,604.2 273.7,599.5 275.1,592.8 276.5,597.9 277.9,600.4 279.4,604.3 280.8,606.0 282.2,609.0 283.6,611.7 285.0,608.5 286.4,604.2 287.8,599.6 289.2,596.6 291.1,587.2 292.6,593.8 294.0,598.5 295.4,599.7 296.8,600.4 298.2,601.7 299.6,604.2 301.1,605.8 302.5,609.8" fill="none" stroke="#3a8fd8" stroke-width="1.5" stroke-linejoin="round" clip-path="url(#c3b)"/>
<line x1="64" y1="627.4" x2="304" y2="627.4" stroke="#9aa5a8" stroke-width="1.7"/>
</g>
<g id="c4">
<text class="wm" x="516" y="534.5" text-anchor="middle" font-size="9.2">checkonchain</text>
<clipPath id="c4a"><rect x="370" y="490" width="270" height="137.29999999999995"/></clipPath>
<clipPath id="c4b"><rect x="370" y="627.3" width="270" height="30"/></clipPath>
<path d="M379.1,627.3 L379.1,621.8 L381.1,615.7 L383.1,619.8 L385.2,613.7 L387.2,621.8 L390.2,619.8 L392.3,609.6 L394.3,617.8 L396.3,613.7 L398.4,621.8 L400.4,601.5 L401.4,593.4 L404.4,597.5 L406.5,567.0 L408.5,601.5 L411.5,605.6 L414.6,597.5 L416.6,589.3 L418.3,590.0 L421.5,540.0 L423.3,509.6 L424.8,555.2 L425.9,598.7 L428.0,603.0 L430.2,607.4 L433.5,609.6 L436.7,598.7 L438.9,585.7 L440.7,542.2 L442.2,511.7 L444.3,520.4 L446.5,544.3 L448.7,561.7 L450.9,533.5 L452.4,507.4 L454.1,566.1 L456.3,600.9 L458.5,620.4 L460.7,616.1 L462.8,622.6 L465.0,615.5 L467.2,609.7 L469.4,598.1 L470.8,589.3 L473.0,598.1 L475.2,601.0 L477.3,609.7 L479.5,612.6 L481.7,605.3 L483.9,615.5 L486.0,609.7 L488.2,616.9 L490.4,608.2 L491.9,605.3 L494.0,612.6 L496.2,618.4 L498.4,627.1 L499.8,631.4 L502.0,621.3 L503.5,612.6 L504.9,625.6 L506.4,630.7 L508.5,615.5 L510.7,609.7 L512.9,612.6 L515.1,606.8 L517.2,603.9 L519.4,601.0 L521.6,602.4 L523.8,595.2 L525.2,573.4 L526.0,544.4 L527.1,574.8 L528.9,583.5 L531.0,561.8 L532.5,580.6 L534.7,569.0 L536.1,583.5 L537.6,601.0 L539.7,603.9 L542.6,601.1 L545.1,608.8 L547.7,602.4 L550.3,608.8 L552.9,608.8 L555.4,614.0 L558.6,608.8 L560.6,594.7 L562.5,608.8 L564.4,616.6 L566.3,620.4 L568.3,617.8 L570.8,616.6 L573.4,611.4 L576.0,617.8 L578.6,624.3 L580.5,632.0 L581.8,634.5 L583.1,626.8 L585.0,608.8 L587.6,611.4 L589.5,601.1 L591.4,614.0 L594.0,617.8 L596.6,615.3 L598.5,623.0 L601.1,616.6 L603.6,615.3 L605.6,606.3 L608.1,598.6 L610.1,593.4 L612.0,602.4 L614.6,608.8 L616.5,602.4 L618.4,614.0 L619.7,624.3 L619.7,627.3 Z" fill="#3ceeb6" clip-path="url(#c4a)"/>
<path d="M379.1,627.3 L379.1,621.8 L381.1,615.7 L383.1,619.8 L385.2,613.7 L387.2,621.8 L390.2,619.8 L392.3,609.6 L394.3,617.8 L396.3,613.7 L398.4,621.8 L400.4,601.5 L401.4,593.4 L404.4,597.5 L406.5,567.0 L408.5,601.5 L411.5,605.6 L414.6,597.5 L416.6,589.3 L418.3,590.0 L421.5,540.0 L423.3,509.6 L424.8,555.2 L425.9,598.7 L428.0,603.0 L430.2,607.4 L433.5,609.6 L436.7,598.7 L438.9,585.7 L440.7,542.2 L442.2,511.7 L444.3,520.4 L446.5,544.3 L448.7,561.7 L450.9,533.5 L452.4,507.4 L454.1,566.1 L456.3,600.9 L458.5,620.4 L460.7,616.1 L462.8,622.6 L465.0,615.5 L467.2,609.7 L469.4,598.1 L470.8,589.3 L473.0,598.1 L475.2,601.0 L477.3,609.7 L479.5,612.6 L481.7,605.3 L483.9,615.5 L486.0,609.7 L488.2,616.9 L490.4,608.2 L491.9,605.3 L494.0,612.6 L496.2,618.4 L498.4,627.1 L499.8,631.4 L502.0,621.3 L503.5,612.6 L504.9,625.6 L506.4,630.7 L508.5,615.5 L510.7,609.7 L512.9,612.6 L515.1,606.8 L517.2,603.9 L519.4,601.0 L521.6,602.4 L523.8,595.2 L525.2,573.4 L526.0,544.4 L527.1,574.8 L528.9,583.5 L531.0,561.8 L532.5,580.6 L534.7,569.0 L536.1,583.5 L537.6,601.0 L539.7,603.9 L542.6,601.1 L545.1,608.8 L547.7,602.4 L550.3,608.8 L552.9,608.8 L555.4,614.0 L558.6,608.8 L560.6,594.7 L562.5,608.8 L564.4,616.6 L566.3,620.4 L568.3,617.8 L570.8,616.6 L573.4,611.4 L576.0,617.8 L578.6,624.3 L580.5,632.0 L581.8,634.5 L583.1,626.8 L585.0,608.8 L587.6,611.4 L589.5,601.1 L591.4,614.0 L594.0,617.8 L596.6,615.3 L598.5,623.0 L601.1,616.6 L603.6,615.3 L605.6,606.3 L608.1,598.6 L610.1,593.4 L612.0,602.4 L614.6,608.8 L616.5,602.4 L618.4,614.0 L619.7,624.3 L619.7,627.3 Z" fill="#e0507a" clip-path="url(#c4b)"/>
<line x1="379" y1="627.3" x2="649" y2="627.3" stroke="#444" stroke-width="2.1"/>
<polyline points="379.6,564.2 380.3,562.5 381.0,563.7 381.7,562.8 382.4,560.8 383.1,560.7 383.8,561.6 384.5,562.4 385.2,563.9 385.9,565.1 386.6,565.3 387.3,563.4 388.0,562.5 388.7,563.8 389.4,561.9 390.1,561.3 390.9,562.2 391.6,560.4 392.4,561.9 393.1,560.9 393.9,560.7 394.6,558.6 395.3,558.4 396.1,560.5 396.8,561.4 397.6,561.3 398.5,558.0 399.4,557.2 400.2,549.0 401.1,543.3 401.1,541.0 401.8,541.1 402.6,542.1 403.3,540.7 404.0,541.0 404.8,539.5 405.6,539.2 406.4,538.6 407.2,536.8 407.9,536.7 408.7,536.9 409.4,536.3 410.1,536.0 410.8,534.8 411.5,534.4 412.2,534.6 413.0,532.9 413.7,532.6 414.5,531.7 415.4,527.4 416.2,524.1 417.1,524.3 418.0,527.0 418.8,526.7 419.5,524.8 420.3,523.5 421.1,524.7 421.8,524.3 422.6,525.9 423.4,525.6 424.2,523.7 425.0,521.2 425.9,518.5 426.7,517.7 427.5,520.8 428.4,524.7 429.1,527.0 429.9,528.7 430.6,531.1 431.3,531.7 432.5,525.9 433.3,525.5 434.0,526.4 434.8,525.3 435.7,521.4 436.6,516.6 437.4,514.2 438.1,513.0 438.9,510.8 439.7,512.2 440.4,512.4 441.2,511.9 442.1,504.5 443.1,497.0 444.0,493.8 444.9,490.1 445.8,486.5 446.6,485.4 447.5,487.1 448.4,490.1 449.5,495.9 450.4,492.3 451.3,487.1 452.1,487.1 452.8,486.6 453.6,487.7 454.4,487.5 455.1,487.5 455.9,486.6 456.7,489.8 457.4,491.7 458.2,494.7 459.1,493.4 460.0,492.4 460.8,493.6 461.5,495.5 462.3,495.9 463.5,501.7 464.4,498.9 465.2,495.9 466.0,495.6 466.7,495.9 467.5,495.9 468.3,491.6 469.0,488.5 469.8,486.6 470.6,487.9 471.4,489.4 472.2,488.9 472.9,488.6 473.6,487.5 474.4,486.3 475.1,486.6 475.8,487.3 476.6,489.3 477.3,489.5 478.0,489.5 478.7,491.1 479.4,493.4 480.1,493.3 480.8,495.5 481.5,497.0 482.4,498.8 483.2,498.2 484.0,501.9 484.9,505.2 485.8,502.1 486.7,499.3 487.5,496.4 488.2,494.8 489.0,492.4 489.8,492.8 490.5,489.6 491.3,490.1 492.2,493.1 493.1,494.7 494.0,504.8 494.8,513.3 495.4,499.3 496.2,500.7 496.9,500.7 497.7,500.5 498.4,500.2 499.1,498.2 499.9,497.2 500.6,495.9 501.5,497.4 502.4,499.3 503.2,498.9 503.9,501.9 504.7,501.7 505.8,507.5 506.6,504.9 507.4,501.3 508.2,499.3 509.2,496.8 510.2,494.2 510.9,493.6 511.6,492.7 512.4,492.1 513.1,491.9 514.0,494.6 514.9,497.1 515.8,497.7 516.6,497.7 517.4,495.7 518.1,492.9 518.9,490.7 519.7,489.1 520.5,489.2 521.3,489.5 522.1,486.4 523.0,484.9 523.9,486.6 524.7,487.8 525.9,479.1 527.1,468.6 528.2,467.5 529.1,465.5 530.0,461.7 530.8,462.8 531.5,463.2 532.3,462.8 533.0,462.7 533.8,460.4 534.5,461.1 535.2,459.3 535.9,458.9 536.7,456.5 537.4,455.5 538.1,455.9 539.0,457.5 539.8,461.7 540.6,463.1 541.4,462.6 542.2,464.0 542.9,461.8 543.7,462.0 544.4,460.1 545.1,459.3 546.0,461.1 546.8,465.1 547.5,461.8 548.2,460.3 549.0,456.9 549.7,455.3 550.4,455.4 551.2,457.3 551.9,457.4 552.6,458.2 553.4,458.9 554.2,460.5 555.0,461.7 555.8,460.5 556.5,461.6 557.3,461.7 558.1,461.2 558.8,461.1 559.6,462.2 560.4,464.5 561.2,464.8 561.9,465.3 562.7,467.6 563.5,468.6 564.4,474.1 565.2,477.9 566.1,474.4 567.0,473.3 567.8,472.4 568.5,473.1 569.3,474.4 570.1,473.8 570.8,471.2 571.6,471.0 572.4,472.3 573.1,473.0 573.9,473.3 575.1,481.4 576.0,477.5 576.8,473.3 577.7,471.7 578.6,471.5 579.4,470.2 580.1,467.3 580.9,464.0 581.7,463.6 582.4,462.5 583.2,462.8 584.0,461.7 584.8,459.5 585.6,458.2 586.4,457.8 587.1,456.5 587.9,456.4 588.6,455.9 589.3,453.6 590.1,453.3 590.8,453.0 591.6,455.2 592.3,455.9 593.1,455.9 594.0,455.6 594.8,456.4 595.6,456.6 596.4,454.4 597.2,454.1 597.9,456.4 598.7,457.1 599.4,457.4 600.1,458.8 601.0,456.1 601.8,454.7 602.5,453.0 603.2,454.8 604.0,452.2 604.7,453.0 605.6,451.8 606.5,448.9 607.6,445.4 608.4,446.8 609.1,446.0 609.9,446.0 610.7,445.5 611.5,447.7 612.3,447.1 613.1,449.5 614.0,449.5 614.7,448.7 615.5,446.9 616.2,445.2 616.9,444.2 617.7,445.2 618.4,446.2 619.2,448.3" fill="none" stroke="#333" stroke-width="1.25" stroke-linejoin="round"/>
<polyline points="434.0,526.4 434.8,525.3 435.7,521.4 436.6,516.6 437.4,514.2 438.1,513.0 438.9,510.8" fill="none" stroke="#e58aa0" stroke-width="1.6" stroke-linejoin="round"/>
<line x1="399.3" y1="627" x2="399.3" y2="631" stroke="#555" stroke-width="1"/>
</g>
<text class="t" x="198.7" y="77.5" text-anchor="middle" font-size="13.5">MVRV-Z Topping Cloud</text>
<text class="t" x="201.2" y="95.5" text-anchor="middle" font-size="9.96">MVRV-Z: -0.09 (Neutral)</text>
<text class="t" x="514.2" y="77.5" text-anchor="middle" font-size="13.6">Short-Term Holder SOPR</text>
<text class="t" x="516.6" y="95.5" text-anchor="middle" font-size="9.95">STH-SOPR: 0.99 (Neutral)</text>
<text class="t" x="198.5" y="402.3" text-anchor="middle" font-size="13.6">Short-Term Holder MVRV</text>
<text class="t" x="198.5" y="419.1" text-anchor="middle" font-size="9.81">STH-MVRV: 1.05 (Neutral)</text>
<text class="t" x="196.4" y="437.1" text-anchor="middle" font-size="9.72">STH Cost Basis: $108.6k</text>
<text class="t" x="514.5" y="402.3" text-anchor="middle" font-size="13.4">Futures Funding Rates</text>
<text class="t" x="517.6" y="420.6" text-anchor="middle" font-size="10.0">Funding: 8.5%/yr (Cool)</text>
</svg></body></html>
